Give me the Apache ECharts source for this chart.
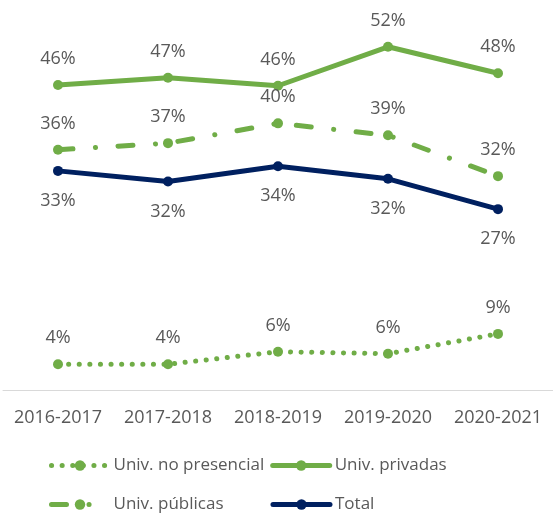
<!DOCTYPE html>
<html>
<head>
<meta charset="utf-8">
<script src="https://cdn.jsdelivr.net/npm/echarts@6/dist/echarts.min.js"></script>
<style>
  html, body { margin: 0; padding: 0; background: #fff; }
  #main { width: 553px; height: 513px; }
</style>
</head>
<body>
<div id="main"></div>
<script>
var years = ['2016-2017', '2017-2018', '2018-2019', '2019-2020', '2020-2021'];
var noPresencial = [3.9, 3.9, 5.8, 5.5, 8.5];
var privadas = [46.2, 47.3, 46.1, 52.0, 48.0];
var publicas = [36.4, 37.4, 40.4, 38.6, 32.4];
var total = [33.2, 31.6, 33.9, 32.0, 27.4];

var green = '#70AD47';
var navy = '#002060';
var fontFam = '"Open Sans", sans-serif';

var chart = echarts.init(document.getElementById('main'));

function pct(p) {
    return Math.round(p.value) + '%';
}

function mkSeries(name, data, color, dash, pos) {
    return {
        name: name,
        type: 'line',
        data: data,
        symbol: 'circle',
        symbolSize: 10,
        itemStyle: { color: color },
        lineStyle: { color: color, width: 5, type: dash, cap: 'round' },
        label: {
            show: true,
            position: pos,
            distance: pos == 'top' ? 12 : 16,
            formatter: pct,
            color: '#595959',
            fontSize: 18,
            fontFamily: fontFam
        },
        emphasis: { disabled: true }
    };
}

var legendText = { color: '#595959', fontSize: 17, fontFamily: fontFam };

var option = {
    animation: false,
    grid: { left: 3, right: 0, top: 27, bottom: 123 },
    xAxis: {
        type: 'category',
        data: years,
        axisLine: { lineStyle: { color: '#D9D9D9', width: 1 } },
        axisTick: { show: false },
        axisLabel: { interval: 0, color: '#595959', fontSize: 18, fontFamily: fontFam, margin: 19 }
    },
    yAxis: {
        type: 'value',
        min: 0,
        max: 55,
        show: false
    },
    legend: [
        {
            data: ['Univ. no presencial', 'Univ. privadas'],
            left: 44, top: 452,
            itemWidth: 57, itemHeight: 13, itemGap: 6,
            lineStyle: { width: 5 },
            textStyle: legendText
        },
        {
            data: ['Univ. públicas', 'Total'],
            left: 44, top: 491,
            itemWidth: 57, itemHeight: 13, itemGap: 47,
            lineStyle: { width: 5 },
            textStyle: legendText
        }
    ],
    series: [
        mkSeries('Univ. no presencial', noPresencial, green, [0.1, 10.5], 'top'),
        mkSeries('Univ. privadas', privadas, green, 'solid', 'top'),
        mkSeries('Univ. públicas', publicas, green, [15, 22.5, 0.1, 22.5], 'top'),
        mkSeries('Total', total, navy, 'solid', 'bottom')
    ]
};

chart.setOption(option);
</script>
</body>
</html>
